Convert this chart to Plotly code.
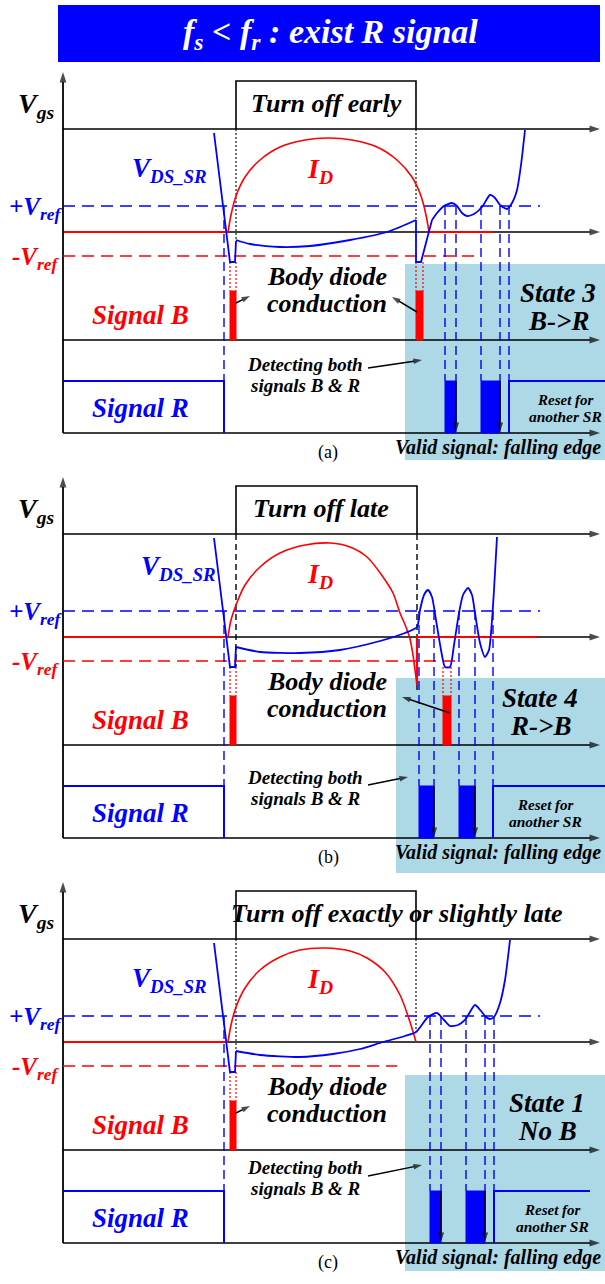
import plotly.graph_objects as go

W, H = 605, 1284
FONT = "Liberation Serif, Times New Roman, Times, serif"
BLUE = "#0000FF"
RED = "#FF0000"
SHADE = "#ADD8E6"

# ---------------- data (panel-local coordinates, panel (a) frame) ----------------
panel_offsets = [0, 405, 810]
panel_labels = ["(a)", "(b)", "(c)"]
turnoff_labels = ["Turn off early", "Turn off late", "Turn off exactly or slightly late"]
state_line1 = ["State 3", "State 4", "State 1"]
state_line2 = ["B->R", "R->B", "No B"]

# signal levels
vgs_high, vgs_low = 81, 129
vref_pos, zero_lvl, vref_neg = 206, 232, 256
sigB_axis, sigR_high, sigR_axis = 340, 381, 433

# gate pulse timing
gate_on = [236, 236, 236]
gate_off = [416, 417, 416]
gate_on_line_end = [240, 262, 240]
gate_off_line_end = [220, 285, 222]

# V_DS_SR: initial fall (linear) for every panel
vds_fall_x = [214, 230, 235, 236]
vds_fall_y = [133, 262, 262, 241]

# V_DS_SR conduction + ringing (per panel)
vds_a_mid_x = [236, 250, 280, 310, 350, 387, 416]
vds_a_mid_y = [240, 244, 247, 246, 240, 232, 220]
vds_a_drop_x = [416, 416, 421, 432]
vds_a_drop_y = [220, 262, 262, 220]
vds_a_ring_x = [432, 437, 444, 452, 457, 462, 467, 474, 482, 490, 495, 500, 507, 512, 517, 521, 525]
vds_a_ring_y = [220, 213, 206, 203, 206, 213, 216, 214, 207, 195, 198, 205, 209, 203, 190, 165, 130]

vds_b_x = [236, 260, 300, 340, 380, 405, 417, 420, 424, 428, 432, 436, 441, 445, 450, 454, 459,
           463, 468, 472, 475, 480, 485, 489, 492, 494, 497]
vds_b_y = [242, 247, 248, 245, 236, 228, 222, 205, 190, 185, 192, 215, 245, 262, 262, 240, 208,
           190, 183, 190, 208, 238, 252, 245, 215, 185, 132]

vds_c_x = [236, 260, 300, 333, 360, 383, 405, 416, 428, 437, 444, 450, 458, 465, 475, 481, 486,
           490, 494, 500, 505, 510]
vds_c_y = [241, 245, 247, 244, 239, 232, 226, 222, 207, 203, 210, 216, 215, 210, 195, 201, 207,
           209, 207, 193, 170, 130]

# I_D current curves
id_a_x = [228, 231, 236, 245, 260, 280, 305, 328, 352, 377, 397, 412, 421, 426, 429]
id_a_y = [232, 215, 196, 177, 160, 147, 140, 138, 140, 147, 160, 177, 196, 215, 232]
id_b_x = [228, 231, 236, 245, 260, 280, 305, 330, 350, 367, 383, 393, 400, 406, 410, 413, 415, 417]
id_b_y = [232, 215, 200, 180, 162, 148, 140, 138, 142, 152, 172, 188, 208, 222, 234, 250, 265, 280]
id_c_x = [228, 231, 236, 245, 260, 280, 300, 325, 350, 367, 385, 400, 410, 416]
id_c_y = [232, 215, 197, 178, 160, 147, 140, 138, 141, 148, 162, 185, 212, 232]
id_tail = [(429, 493), (417, 537), None]

# body diode conduction bars (signal B)
body_bars = [[(230, 236), (416, 423)], [(230, 236), (443, 451)], [(230, 236)]]
body_bar_top = 291

vref_neg_end = [480, 457, 397]
vref_pos_end = 540

# detection (signal R)
det_x = [[445, 456, 481, 500, 509], [419, 434, 459, 475, 493], [430, 441, 466, 485, 494]]
pulses = [[(445, 456), (481, 500)], [(419, 434), (459, 475)], [(430, 441), (466, 485)]]
r_rise = [509, 493, 494]
r_end = [605, 605, 590]
r_fall = 224

shade_x0 = [405, 396, 405]
shade_y = [(264, 460), (273, 468), (265, 461)]

state_x = [558, 540, 547]
reset_x = [565, 545, 552]
vds_label_pos = [(169, 170), (178, 163), (169, 170)]
turnoff_x = [326, 321, 397]
det_text_y = [(364, 385), (372, 393), (357, 378)]
det_arrow = [((368, 368), (422, 360)), ((368, 380), (408, 372)), ((368, 366), (422, 355))]
small_diode_arrow = [((236, 303), (250, 296)), None, ((236, 303), (250, 296))]
long_diode_arrow = [((417, 312), (392, 297)), ((450, 308), (402, 292)), None]

fig = go.Figure()


def line(xs, ys, color="black", width=1.6, dash=None, shape="linear", dy=0, smoothing=0.8):
    ln = dict(color=color, width=width, shape=shape)
    if dash:
        ln["dash"] = dash
    if shape == "spline":
        ln["smoothing"] = smoothing
    fig.add_trace(go.Scatter(x=list(xs), y=[v + dy for v in ys], mode="lines", line=ln,
                             hoverinfo="skip", showlegend=False))


def fillrect(x0, x1, y0, y1, color, dy=0):
    fig.add_trace(go.Scatter(x=[x0, x0, x1, x1, x0], y=[y1 + dy, y0 + dy, y0 + dy, y1 + dy, y1 + dy],
                             mode="lines", fill="toself", fillcolor=color,
                             line=dict(color=color, width=1), hoverinfo="skip", showlegend=False))


def txt(x, y, s, size, color="black", bold=True, italic=True, xanchor="center"):
    if bold:
        s = "<b>" + s + "</b>"
    if italic:
        s = "<i>" + s + "</i>"
    fig.add_annotation(x=x, y=y, text=s, showarrow=False, xanchor=xanchor, yanchor="middle",
                       font=dict(family=FONT, size=size, color=color))


def arrow(tail, head, dy=0, width=1.5, head_size=9, color="black"):
    fig.add_trace(go.Scatter(
        x=[tail[0], head[0]], y=[tail[1] + dy, head[1] + dy], mode="lines+markers",
        line=dict(color=color, width=width),
        marker=dict(symbol="arrow", size=[0, head_size], angleref="previous", color=color,
                    line=dict(width=0), standoff=0),
        hoverinfo="skip", showlegend=False))


# title bar
fig.add_shape(type="rect", x0=58, x1=600, y0=5, y1=62, fillcolor=BLUE, line=dict(width=0), layer="below")
fig.add_annotation(x=330, y=34, text="<b><i>f<sub>s</sub> &lt; f<sub>r</sub> : exist R signal</i></b>",
                   showarrow=False, xanchor="center", yanchor="middle",
                   font=dict(family=FONT, size=34, color="white"))

for p in range(3):
    d = panel_offsets[p]
    # shaded detection area
    fig.add_shape(type="rect", x0=shade_x0[p], x1=605, y0=shade_y[p][0] + d, y1=shade_y[p][1] + d,
                  fillcolor=SHADE, line=dict(width=0), layer="below")

    # axes
    arrow((63, sigR_axis), (63, 72), dy=d, width=1.8, head_size=11)
    for yl in (vgs_low, zero_lvl, sigB_axis, sigR_axis):
        arrow((63, yl), (600, yl), dy=d, width=1.6, head_size=11)

    # Vgs pulse
    line([gate_on[p], gate_on[p], gate_off[p], gate_off[p]], [vgs_low, vgs_high, vgs_high, vgs_low], dy=d, width=1.6)
    gdash = "6px,4px" if p == 1 else "2px,2px"
    gw = 1.4 if p == 1 else 1.1
    line([gate_on[p], gate_on[p]], [vgs_low, gate_on_line_end[p]], dy=d, width=gw, dash=gdash)
    line([gate_off[p], gate_off[p]], [vgs_low, gate_off_line_end[p]], dy=d, width=gw, dash=gdash)

    # reference levels
    line([63, vref_pos_end], [vref_pos, vref_pos], color=BLUE, width=1.5, dash="12px,7px", dy=d)
    line([63, vref_neg_end[p]], [vref_neg, vref_neg], color=RED, width=1.5, dash="12px,7px", dy=d)

    # red zero-current line before conduction
    line([64, 228], [zero_lvl, zero_lvl], color=RED, width=2.2, dy=d)

    # I_D
    idx, idy = [(id_a_x, id_a_y), (id_b_x, id_b_y), (id_c_x, id_c_y)][p]
    line(idx, idy, color=RED, width=1.6, shape="spline", dy=d, smoothing=0.9)
    if id_tail[p] is not None:
        t0, t1 = id_tail[p]
        if p == 1:
            line([417, 417, t1], [idy[-1], zero_lvl, zero_lvl], color=RED, width=2.2, dy=d)
        else:
            line([t0, t1], [zero_lvl, zero_lvl], color=RED, width=2.2, dy=d)

    # detection dashed verticals
    line([r_fall, r_fall], [vref_pos, sigR_high], color=BLUE, width=1.4, dash="9px,5px", dy=d)
    for xv in det_x[p]:
        line([xv, xv], [vref_pos, sigR_high], color=BLUE, width=1.4, dash="9px,5px", dy=d)

    # body diode bars + dotted guides
    for (x0, x1) in body_bars[p]:
        line([x0, x0], [262, body_bar_top], color=RED, width=1.2, dash="2px,2px", dy=d)
        line([x1, x1], [262, body_bar_top], color=RED, width=1.2, dash="2px,2px", dy=d)
        fillrect(x0, x1, body_bar_top, sigB_axis, RED, dy=d)

    # V_DS_SR
    line(vds_fall_x, vds_fall_y, color=BLUE, width=1.8, dy=d)
    if p == 0:
        line(vds_a_mid_x, vds_a_mid_y, color=BLUE, width=1.8, shape="spline", dy=d)
        line(vds_a_drop_x, vds_a_drop_y, color=BLUE, width=1.8, dy=d)
        line(vds_a_ring_x, vds_a_ring_y, color=BLUE, width=1.8, shape="spline", dy=d, smoothing=0.6)
    elif p == 1:
        line(vds_b_x, vds_b_y, color=BLUE, width=1.8, shape="spline", dy=d, smoothing=0.6)
    else:
        line(vds_c_x, vds_c_y, color=BLUE, width=1.8, shape="spline", dy=d, smoothing=0.6)

    # signal R
    line([64, r_fall, r_fall], [sigR_high, sigR_high, sigR_axis], color=BLUE, width=2, dy=d)
    for (x0, x1) in pulses[p]:
        fillrect(x0, x1, sigR_high, sigR_axis, BLUE, dy=d)
        arrow((x1, sigR_high), (x1, sigR_axis - 1), dy=d, width=1.6, head_size=10)
    line([r_rise[p], r_rise[p], r_end[p]], [sigR_axis, sigR_high, sigR_high], color=BLUE, width=2, dy=d)

    # labels
    txt(36, 105 + d, "V<sub>gs</sub>", 28)
    txt(36, 208 + d, "+V<sub>ref</sub>", 25, color=BLUE)
    txt(36, 258 + d, "-V<sub>ref</sub>", 25, color=RED)
    vx, vy = vds_label_pos[p]
    txt(vx, vy + d, "V<sub>DS_SR</sub>", 27, color=BLUE)
    txt(320, 170 + d, "I<sub>D</sub>", 28, color=RED)
    txt(turnoff_x[p], 103 + d, turnoff_labels[p], 26)
    txt(140, 315 + d, "Signal B", 27, color=RED)
    txt(140, 408 + d, "Signal R", 27, color=BLUE)
    txt(327, 276 + d, "Body diode", 26)
    txt(327, 303 + d, "conduction", 26)
    txt(305, det_text_y[p][0] + d, "Detecting both", 19)
    txt(305, det_text_y[p][1] + d, "signals B &amp; R", 19)
    txt(state_x[p], 293 + d, state_line1[p], 27)
    txt(state_x[p], 321 + d, state_line2[p], 27)
    txt(reset_x[p], 400 + d, "Reset for", 15)
    txt(reset_x[p], 416 + d, "another SR", 15.5)
    txt(498, 447 + d, "Valid signal: falling edge", 20)
    txt(328, 452 + d, panel_labels[p], 18, bold=False, italic=False)

    # pointer arrows
    arrow(det_arrow[p][0], det_arrow[p][1], dy=d, width=1.5, head_size=9)
    if small_diode_arrow[p] is not None:
        arrow(small_diode_arrow[p][0], small_diode_arrow[p][1], dy=d, width=1.5, head_size=9)
    if long_diode_arrow[p] is not None:
        arrow(long_diode_arrow[p][0], long_diode_arrow[p][1], dy=d, width=1.5, head_size=9)

fig.update_layout(
    width=W, height=H, margin=dict(l=0, r=0, t=0, b=0),
    paper_bgcolor="white", plot_bgcolor="white", showlegend=False,
    xaxis=dict(range=[0, W], visible=False, fixedrange=True),
    yaxis=dict(range=[H, 0], visible=False, fixedrange=True),
)
fig.write_html("out.html")
